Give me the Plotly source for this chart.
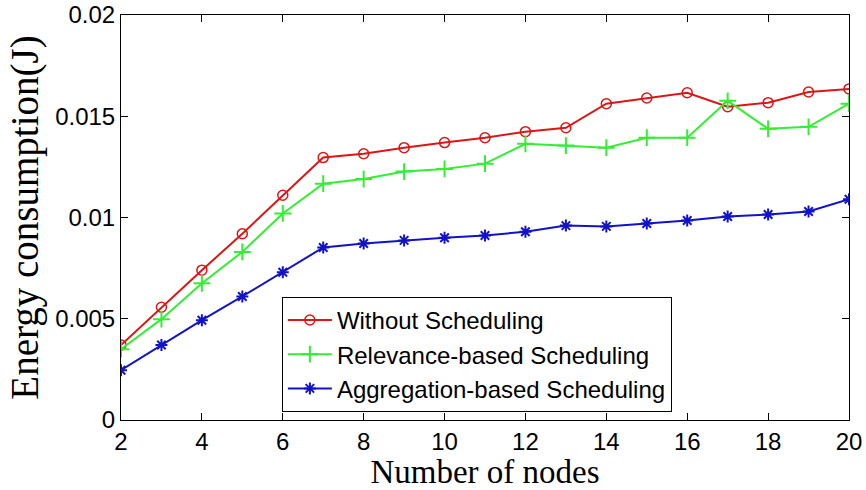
import plotly.graph_objects as go

nodes = [2, 3, 4, 5, 6, 7, 8, 9, 10, 11, 12, 13, 14, 15, 16, 17, 18, 19, 20]
without_sched = [0.0037, 0.00557, 0.0074, 0.0092, 0.0111, 0.01296, 0.01315, 0.01345, 0.0137, 0.01394,
                 0.01424, 0.01443, 0.01562, 0.0159, 0.01616, 0.01547, 0.01567, 0.0162, 0.01635]
relevance_sched = [0.0035, 0.00498, 0.00675, 0.0083, 0.0102, 0.01167, 0.0119, 0.01227, 0.0124, 0.01266,
                   0.01364, 0.01355, 0.01345, 0.01394, 0.01394, 0.01576, 0.01438, 0.01448, 0.01562]
aggregation_sched = [0.00246, 0.0037, 0.00493, 0.0061, 0.0073, 0.00852, 0.00872, 0.00887, 0.009, 0.00911,
                     0.0093, 0.0096, 0.00956, 0.0097, 0.00985, 0.01005, 0.01015, 0.0103, 0.0109]

x_ticks = [2, 4, 6, 8, 10, 12, 14, 16, 18, 20]
y_ticks = [0, 0.005, 0.01, 0.015, 0.02]
y_ticktext = ["0", "0.005", "0.01", "0.015", "0.02"]

fig = go.Figure()
fig.add_trace(go.Scatter(x=nodes, y=without_sched, mode="lines+markers", name="Without Scheduling",
                         line=dict(color="#dd1515", width=2),
                         marker=dict(symbol="circle-open", size=10, color="#dd1515", line=dict(width=1.5))))
fig.add_trace(go.Scatter(x=nodes, y=relevance_sched, mode="lines+markers", name="Relevance-based Scheduling",
                         line=dict(color="#33ee33", width=2),
                         marker=dict(symbol="cross-thin-open", size=12, color="#33ee33", line=dict(width=2, color="#33ee33"))))
fig.add_trace(go.Scatter(x=nodes, y=aggregation_sched, mode="lines+markers", name="Aggregation-based Scheduling",
                         line=dict(color="#1212c8", width=2),
                         marker=dict(symbol="asterisk-open", size=10, color="#1212c8", line=dict(width=2, color="#1212c8"))))

axis_common = dict(showline=True, linecolor="black", linewidth=1, mirror="ticks", ticks="inside",
                   ticklen=7, tickcolor="black", showgrid=False, zeroline=False,
                   ticklabeloverflow="allow", automargin=False,
                   tickfont=dict(family="Liberation Sans, Arial", size=24, color="black"))

fig.update_layout(
    width=866, height=490,
    margin=dict(l=121, r=17, t=15, b=70),
    paper_bgcolor="white", plot_bgcolor="white",
    showlegend=True,
    legend=dict(x=0.221, y=0.02, xanchor="left", yanchor="bottom",
                bgcolor="white", bordercolor="black", borderwidth=1,
                font=dict(family="Liberation Sans, Arial", size=24, color="black"),
                itemwidth=44),
    xaxis=dict(range=[2, 20.00001], tickvals=x_ticks, ticklabelstandoff=0,
               title=dict(text="Number of nodes", standoff=0,
                          font=dict(family="Liberation Serif, Times New Roman", size=33, color="black")),
               **axis_common),
    yaxis=dict(range=[0, 0.0200001], tickvals=y_ticks, ticktext=y_ticktext,
               title=dict(text="Energy consumption(J)", standoff=4,
                          font=dict(family="Liberation Serif, Times New Roman", size=39, color="black")),
               **axis_common),
)

fig.write_html("out.html")
